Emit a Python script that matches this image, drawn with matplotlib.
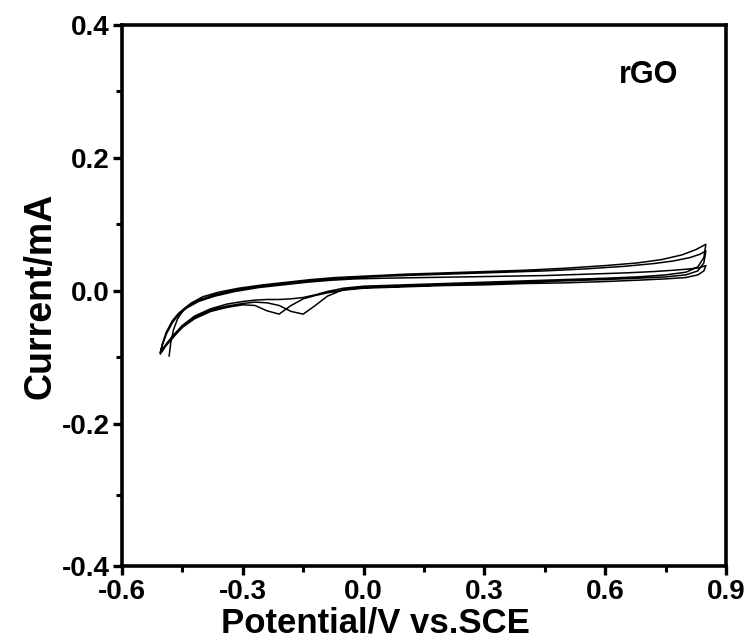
import numpy as np
import matplotlib
matplotlib.use("Agg")
import matplotlib.pyplot as plt

plt.rcParams['font.family'] = ['Liberation Sans', 'DejaVu Sans']
plt.rcParams['font.weight'] = 'bold'

# ---- data ----
c1_an_x = [-0.483, -0.479, -0.472, -0.462, -0.448, -0.43, -0.40, -0.36, -0.31, -0.25, -0.19, -0.13,
           -0.07, 0.0, 0.1, 0.2, 0.3, 0.4, 0.5, 0.6, 0.68, 0.74, 0.79, 0.825, 0.85]
c1_an_y = [-0.098, -0.078, -0.058, -0.042, -0.029, -0.019, -0.009, -0.002, 0.004, 0.009, 0.013, 0.017,
           0.020, 0.022, 0.025, 0.027, 0.029, 0.031, 0.034, 0.038, 0.042, 0.047, 0.054, 0.062, 0.070]

an_x = [-0.505, -0.50, -0.49, -0.475, -0.46, -0.44, -0.41, -0.37, -0.32, -0.26, -0.20, -0.14, -0.08,
        -0.02, 0.05, 0.15, 0.25, 0.35, 0.45, 0.55, 0.65, 0.72, 0.77, 0.81, 0.835, 0.85]
c2_an_y = [-0.093, -0.080, -0.062, -0.045, -0.034, -0.024, -0.014, -0.006, 0.001, 0.007, 0.011, 0.015,
           0.018, 0.020, 0.022, 0.024, 0.026, 0.028, 0.030, 0.033, 0.037, 0.041, 0.045, 0.050, 0.055, 0.060]
c3_an_y = [-0.093, -0.082, -0.065, -0.048, -0.036, -0.026, -0.016, -0.008, -0.001, 0.005, 0.009, 0.013,
           0.016, 0.018, 0.019, 0.020, 0.021, 0.022, 0.023, 0.025, 0.027, 0.029, 0.031, 0.033, 0.035, 0.038]

cat_x = [0.85, 0.845, 0.83, 0.80, 0.75, 0.68, 0.6, 0.5, 0.4, 0.3, 0.2, 0.1, 0.0, -0.05, -0.09, -0.12,
         -0.15, -0.18, -0.21, -0.24, -0.27, -0.30, -0.34, -0.38, -0.42, -0.45, -0.47, -0.49, -0.505]
c1_cat_y = [0.070, 0.050, 0.036, 0.028, 0.024, 0.021, 0.019, 0.017, 0.015, 0.013, 0.011, 0.009, 0.007,
            0.004, -0.001, -0.006, -0.010, -0.012, -0.013, -0.013, -0.014, -0.016, -0.020, -0.027,
            -0.038, -0.052, -0.065, -0.080, -0.093]
c2_cat_y = [0.060, 0.042, 0.030, 0.024, 0.021, 0.019, 0.017, 0.015, 0.013, 0.011, 0.009, 0.007, 0.005,
            0.002, -0.008, -0.022, -0.035, -0.031, -0.022, -0.018, -0.017, -0.019, -0.023, -0.029,
            -0.040, -0.053, -0.066, -0.080, -0.093]
c3_cat_y = [0.038, 0.030, 0.024, 0.020, 0.018, 0.016, 0.014, 0.012, 0.011, 0.009, 0.008, 0.006, 0.004,
            0.001, -0.003, -0.007, -0.012, -0.022, -0.035, -0.030, -0.022, -0.021, -0.025, -0.031,
            -0.042, -0.055, -0.068, -0.082, -0.095]

x_ticks = [-0.6, -0.3, 0.0, 0.3, 0.6, 0.9]
y_ticks = [-0.4, -0.2, 0.0, 0.2, 0.4]

# the reference's lower y band (-0.4 .. -0.2) is drawn slightly stretched
K_LOW = 1.07


def fwd(y):
    y = np.asarray(y, dtype=float)
    return np.where(y >= -0.2, y, -0.2 + (y + 0.2) * K_LOW)


def inv(t):
    t = np.asarray(t, dtype=float)
    return np.where(t >= -0.2, t, -0.2 + (t + 0.2) / K_LOW)


# ---- figure ----
fig = plt.figure(figsize=(7.51, 6.44), dpi=100)
ax = fig.add_axes([0.1625, 0.1211, 0.8042, 0.8401])
ax.set_yscale('function', functions=(fwd, inv))

x_all = c1_an_x + cat_x + an_x + cat_x + an_x + cat_x
y_all = c1_an_y + c1_cat_y + c2_an_y + c2_cat_y + c3_an_y + c3_cat_y
ax.plot(x_all, y_all, color='black', lw=1.1, solid_joinstyle='round')

ax.set_xlim(-0.6, 0.9)
ax.set_ylim(-0.4, 0.4)
ax.set_xticks(x_ticks)
ax.set_yticks(y_ticks)
ax.set_xticks([-0.45, -0.15, 0.15, 0.45, 0.75], minor=True)
ax.set_yticks([-0.3, -0.1, 0.1, 0.3], minor=True)
ax.set_xticklabels([f"{v:.1f}" for v in x_ticks])
ax.set_yticklabels([f"{v:.1f}" for v in y_ticks])

for s in ax.spines.values():
    s.set_linewidth(2.6)
ax.tick_params(which='major', direction='out', length=6.5, width=2.4, labelsize=20, pad=2.5)
ax.tick_params(which='minor', direction='out', length=4.5, width=2.2)

ax.set_xlabel('Potential/V vs.SCE', fontsize=25, fontweight='bold')
ax.xaxis.set_label_coords(0.42, -0.0755)
ax.set_ylabel('Current/mA', fontsize=27, fontweight='bold', labelpad=2)

ax.text(0.871, 0.908, 'rGO', ha='center', va='center', fontsize=22, fontweight='bold',
        transform=ax.transAxes)

fig.savefig('out.png', dpi=100)
